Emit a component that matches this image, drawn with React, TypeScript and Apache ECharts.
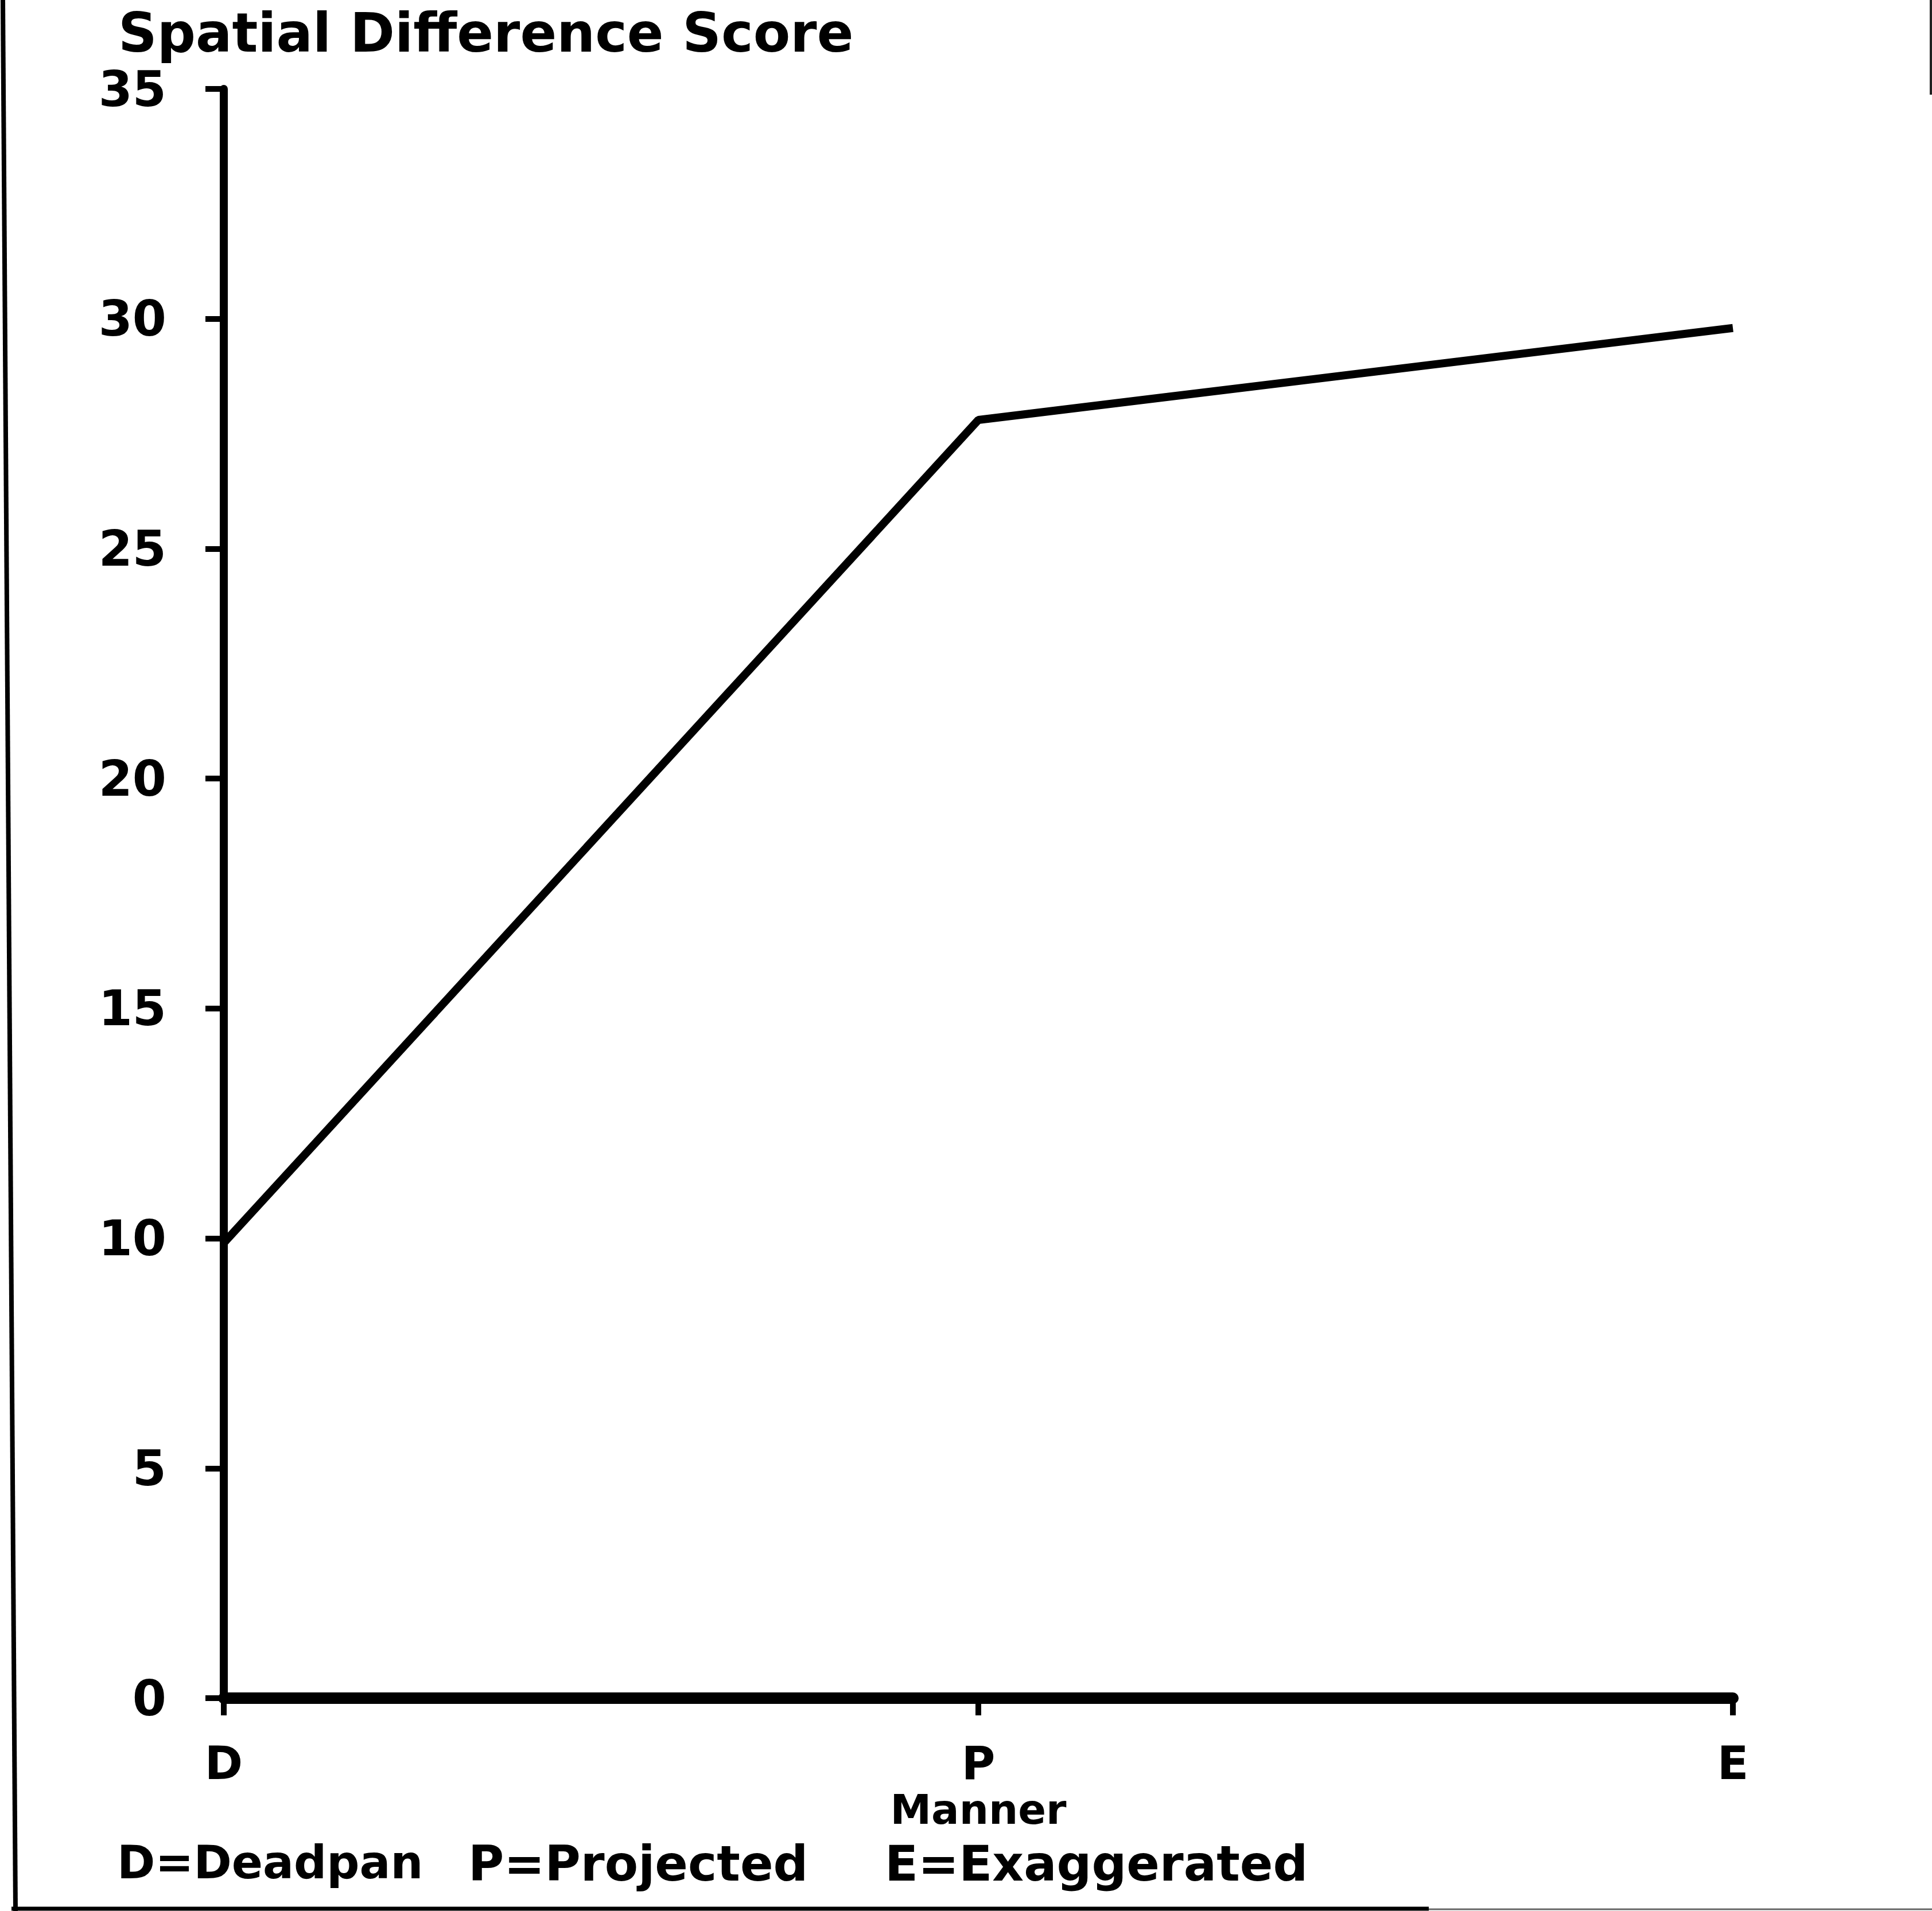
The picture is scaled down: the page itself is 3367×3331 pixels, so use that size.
import React, { useEffect, useRef } from "react";
import * as echarts from "echarts";

const categories = ["D", "P", "E"];
const scores = [9.9, 27.8, 29.8];
const yMin = 0;
const yMax = 35;
const yStep = 5;
const titleText = "Spatial Difference Score";
const xAxisName = "Manner";
const keyItems = ["D=Deadpan", "P=Projected", "E=Exaggerated"];
const keyLefts = [204, 816, 1542];
const keySizes = [80, 85, 85];

const FONT = "DejaVu Sans";

export default function App() {
  const ref = useRef<HTMLDivElement>(null);

  useEffect(() => {
    if (!ref.current) return;
    const chart = echarts.init(ref.current, null, { renderer: "svg" });
    chart.setOption({
      animation: false,
      backgroundColor: "#ffffff",
      title: {
        text: titleText,
        left: 206,
        top: 22,
        padding: 0,
        textStyle: {
          fontFamily: FONT,
          fontWeight: "bold",
          fontSize: 94,
          lineHeight: 70,
          color: "#000",
        },
      },
      grid: { left: 390, right: 347, top: 155, bottom: 371, containLabel: false },
      xAxis: {
        type: "category",
        data: categories,
        boundaryGap: false,
        name: xAxisName,
        nameLocation: "middle",
        nameGap: 152,
        nameTextStyle: { fontFamily: FONT, fontWeight: "bold", fontSize: 72, lineHeight: 54, color: "#000" },
        axisLine: { show: true, lineStyle: { color: "#000", width: 20 } },
        axisTick: { show: true, length: 30, lineStyle: { color: "#000", width: 10 } },
        axisLabel: { margin: 82, fontFamily: FONT, fontWeight: "bold", fontSize: 80, lineHeight: 62, color: "#000" },
        splitLine: { show: false },
      },
      yAxis: {
        type: "value",
        min: yMin,
        max: yMax,
        interval: yStep,
        axisLine: { show: true, lineStyle: { color: "#000", width: 14 } },
        axisTick: { show: true, length: 32, lineStyle: { color: "#000", width: 10 } },
        axisLabel: { margin: 100, fontFamily: FONT, fontWeight: "bold", fontSize: 85, lineHeight: 64, color: "#000" },
        splitLine: { show: false },
      },
      series: [
        {
          type: "line",
          data: scores,
          showSymbol: false,
          lineStyle: { color: "#000", width: 14 },
          itemStyle: { color: "#000" },
        },
      ],
      graphic: [
        ...keyItems.map((t, i) => ({
          type: "text",
          left: keyLefts[i],
          top: 3206,
          style: {
            text: t,
            fill: "#000",
            font: `bold ${keySizes[i]}px "${FONT}"`,
            lineHeight: 66,
          },
        })),
        { type: "line", shape: { x1: 5, y1: 0, x2: 27, y2: 3331 }, style: { stroke: "#000", lineWidth: 8 } },
        { type: "line", shape: { x1: 20, y1: 3327, x2: 2490, y2: 3327 }, style: { stroke: "#000", lineWidth: 7 } },
        { type: "line", shape: { x1: 2490, y1: 3328, x2: 3367, y2: 3328 }, style: { stroke: "#666", lineWidth: 3 } },
        { type: "line", shape: { x1: 3365, y1: 0, x2: 3365, y2: 165 }, style: { stroke: "#222", lineWidth: 4 } },
      ],
    });
    return () => chart.dispose();
  }, []);

  return (
    <div
      ref={ref}
      style={{ position: "fixed", left: 0, top: 0, width: 3367, height: 3331, background: "#fff" }}
    />
  );
}
